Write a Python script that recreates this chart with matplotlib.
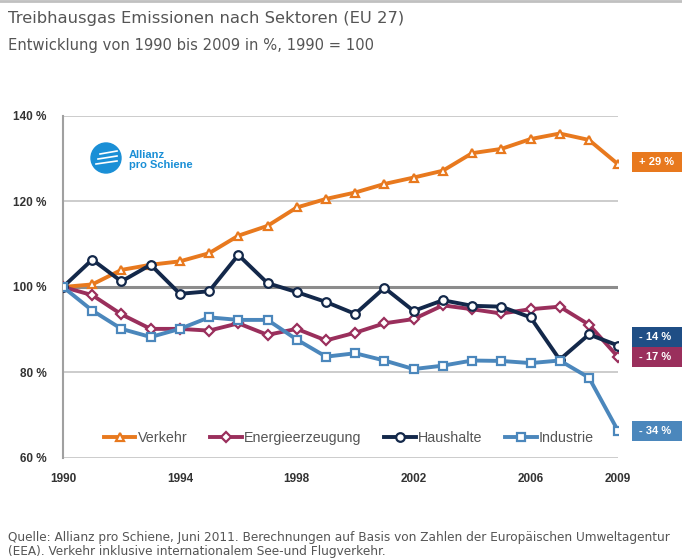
import matplotlib
matplotlib.use('Agg')
import matplotlib.pyplot as plt
from matplotlib.patches import Circle, Rectangle
from matplotlib.transforms import IdentityTransform, blended_transform_factory

# data, 1990 = 100
years = list(range(1990, 2010))
verkehr = [100, 100.6, 104.0, 105.2, 106.0, 107.9, 112.0, 114.3, 118.6, 120.6,
           122.1, 124.1, 125.6, 127.2, 131.3, 132.3, 134.6, 135.9, 134.4, 128.7]
energie = [100, 98.1, 93.6, 90.2, 90.2, 89.8, 91.5, 88.8, 90.2, 87.5,
           89.3, 91.5, 92.5, 95.7, 94.8, 93.8, 94.8, 95.4, 91.2, 83.6]
haushalte = [100, 106.4, 101.3, 105.2, 98.4, 99.0, 107.5, 100.9, 98.8, 96.5,
             93.7, 99.8, 94.4, 96.9, 95.6, 95.4, 92.9, 83.0, 88.9, 86.3]
industrie = [100, 94.5, 90.2, 88.3, 90.2, 92.9, 92.3, 92.3, 87.7, 83.7,
             84.5, 82.8, 80.8, 81.6, 82.8, 82.7, 82.2, 82.8, 78.8, 66.3]

names = ['Verkehr', 'Energieerzeugung', 'Haushalte', 'Industrie']
end_labels = ['+ 29 %', '- 17 %', '- 14 %', '- 34 %']
label_y = [129.2, 83.6, 88.3, 66.3]
xticks = [1990, 1994, 1998, 2002, 2006, 2009]
yticks = [60, 80, 100, 120, 140]

colors = ['#E8791E', '#9A2F5C', '#13284A', '#4B87BC']
box_colors = ['#E8791E', '#9A2F5C', '#1F4E85', '#4B87BC']
markers = ['^', 'D', 'o', 's']
msizes = [6, 5.5, 6.2, 6]

fig = plt.figure(figsize=(6.82, 5.59), dpi=100)
ax = fig.add_axes([0.0924, 0.1807, 0.814, 0.6118])

for series, name, c, m, ms in zip([verkehr, energie, haushalte, industrie], names, colors, markers, msizes):
    ax.plot(years, series, color=c, lw=2.8, marker=m, ms=ms, mfc='white',
            mec=c, mew=1.6, label=name, zorder=3)

ax.set_xlim(1990, 2009)
ax.set_ylim(60, 140)
ax.set_xticks(xticks)
ax.set_yticks(yticks)
ax.set_yticklabels(['%d %%' % v for v in yticks])
for v in yticks:
    ax.axhline(v, color='#8c8c8c' if v == 100 else '#c8c8c8',
               lw=2.2 if v == 100 else 1.3, zorder=1)
for s in ['top', 'right', 'bottom']:
    ax.spines[s].set_visible(False)
ax.spines['left'].set_color('#a0a0a0')
ax.spines['left'].set_linewidth(1.5)
ax.tick_params(length=0, labelsize=8.5, colors='#333333')
ax.tick_params(axis='x', pad=11)
ax.tick_params(axis='y', pad=12)
for lab in ax.get_xticklabels() + ax.get_yticklabels():
    lab.set_fontweight('bold')
    lab.set_family('Liberation Sans')

leg = ax.legend(loc='lower center', ncol=4, frameon=False,
                handlelength=2.2, handletextpad=0.15, columnspacing=1.6,
                bbox_to_anchor=(0.515, 0.0), prop={'family': 'Liberation Sans', 'size': 10.3})
for t in leg.get_texts():
    t.set_color('#555555')

# end value boxes on the right, running off the edge
trans = blended_transform_factory(ax.transAxes, ax.transData)
for yv, txt, c in zip(label_y, end_labels, box_colors):
    ax.add_patch(Rectangle((1.025, yv - 2.4), 0.14, 4.8, transform=trans,
                           fc=c, ec='none', clip_on=False, zorder=4))
    ax.text(1.037, yv, txt, transform=trans, va='center', ha='left',
            fontsize=8, fontweight='bold', color='white', family='Liberation Sans',
            zorder=5, clip_on=False)

# logo
fig.add_artist(Circle((106, 559 - 158), 15, transform=IdentityTransform(),
                      color='#1A8FD6'))
for k, dy in enumerate([-6, -1, 4]):
    fig.add_artist(plt.Line2D([96 + 2 * k, 117], [559 - 158 + dy, 559 - 158 + dy + 3],
                              color='white', lw=1.2, transform=IdentityTransform()))
fig.text(129 / 682, 1 - 160 / 559, 'Allianz\npro Schiene', color='#1A8FD6', fontsize=8,
         fontweight='bold', va='center', ha='left', linespacing=1.1,
         family='Liberation Sans')

fig.text(0.012, 0.967, 'Treibhausgas Emissionen nach Sektoren (EU 27)', fontsize=11.8,
         color='#555555', va='center', ha='left', family='DejaVu Sans')
fig.text(0.012, 0.919, 'Entwicklung von 1990 bis 2009 in %, 1990 = 100', fontsize=10.6,
         color='#555555', va='center', ha='left', family='DejaVu Sans')
fig.text(0.012, 1 - 544 / 559,
         'Quelle: Allianz pro Schiene, Juni 2011. Berechnungen auf Basis von Zahlen der Europäischen Umweltagentur\n'
         '(EEA). Verkehr inklusive internationalem See-und Flugverkehr.', fontsize=8.75,
         color='#555555', va='center', ha='left', family='DejaVu Sans', linespacing=1.1)
fig.add_artist(plt.Line2D([0, 1], [0.998, 0.998], color='#c0c0c0', lw=2, transform=fig.transFigure))

fig.savefig('out.png', dpi=100)
